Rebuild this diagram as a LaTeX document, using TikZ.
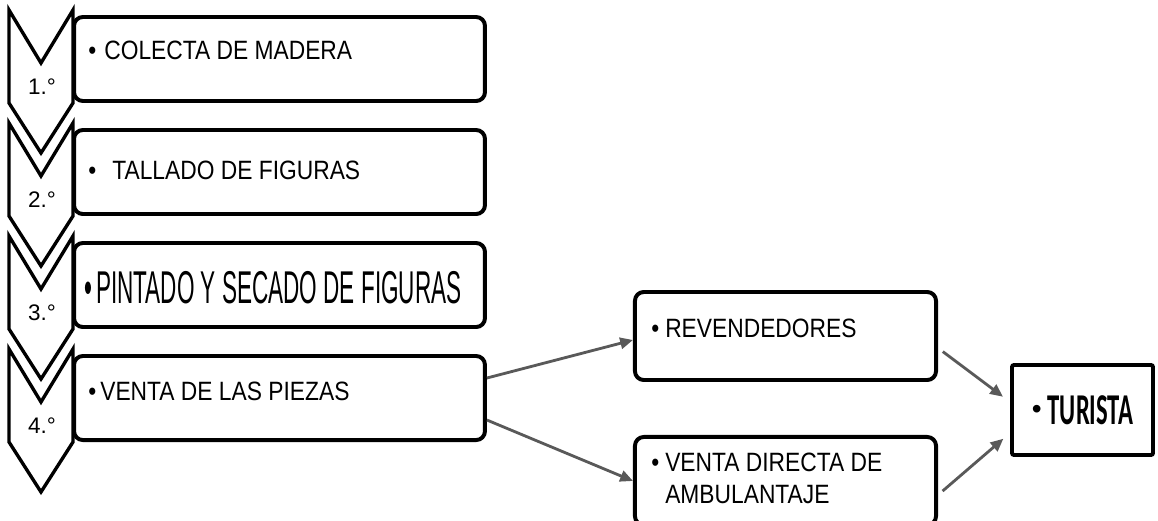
\documentclass[tikz,border=0pt]{standalone}
\usepackage{fontspec}
\setmainfont{Liberation Sans}
\newfontfamily\narrowfont{Liberation Sans}[FakeStretch=0.86]
\newfontfamily\squeezefont{Liberation Sans}[FakeStretch=0.49]
\newfontfamily\buyerfont{Carlito}[FakeStretch=0.56]
\usetikzlibrary{arrows.meta, positioning}

\begin{document}
\begin{tikzpicture}[
    x=0.025cm, y=-0.025cm,
    node distance=0.626cm,
    stage/.style={rectangle, rounded corners=0.22cm, draw=black, line width=2.8pt, fill=white, minimum width=10.27cm, minimum height=2.1cm},
    channel/.style={stage, minimum width=7.525cm, minimum height=2.2cm},
    buyer/.style={rectangle, rounded corners=1.5pt, draw=black, line width=2.8pt, fill=white, minimum width=3.525cm, minimum height=2.25cm, font=\buyerfont\bfseries\fontsize{31.3}{37}\selectfont},
    item/.style={anchor=west, inner sep=0pt, font=\narrowfont\fontsize{18.85}{22.6}\selectfont},
    chevron/.style={draw=black, line width=2.4pt, fill=white},
    num/.style={font=\fontsize{16}{19}\selectfont},
    arrow/.style={-{Triangle[length=3.2mm, width=2.8mm]}, line width=2pt, draw=black!65}
]

\clip (0,0) rectangle (1158,520);

% Step chevrons
\foreach \t [count=\i] in {10,123,236,349} {
  \draw[chevron] (9,\t) -- (41,\t+53) -- (73,\t) -- (73,\t+93) -- (41,\t+143) -- (9,\t+93) -- cycle;
  \node[num] (n\i) at (42,\t+77) {\i.°};
}

% Stage boxes
\node[stage] (b1) at (279.5,59) {};
\node[stage, below=of b1] (b2) {};
\node[stage, below=of b2] (b3) {};
\node[stage, below=of b3] (b4) {};

% Stage texts
\node[item] (t1) at ([xshift=0.4cm, yshift=0.22cm]b1.west) {\textbullet\hspace{0.2cm}COLECTA DE MADERA};
\node[item] (t2) at ([xshift=0.4cm, yshift=0.05cm]b2.west) {\textbullet\hspace{0.4cm}TALLADO DE FIGURAS};
\node[item, font=\squeezefont\fontsize{32.7}{39}\selectfont] (t3) at ([xshift=0.3cm, yshift=-0.075cm]b3.west) {\textbullet\hspace{0.1cm}PINTADO Y SECADO DE FIGURAS};
\node[item] (t4) at ([xshift=0.4cm, yshift=0.175cm]b4.west) {\textbullet\hspace{0.1cm}VENTA DE LAS PIEZAS};

% Sales channels
\node[channel] (rev) at (785.5,336) {};
\node[channel, below=1.325cm of rev] (venta) {};
\node[buyer] (tur) at (1082.5,410) {\raisebox{4pt}{\normalfont\fontsize{20}{20}\selectfont\textbullet}\hspace{0.15cm}TURISTA};

\node[item] (t5) at ([xshift=0.45cm, yshift=0.2cm]rev.west) {\textbullet\hspace{0.15cm}REVENDEDORES};
\node[item, anchor=base west] (t6) at ([xshift=0.45cm, yshift=-0.91cm]venta.north west) {\textbullet\hspace{0.15cm}\begin{tabular}[t]{@{}l@{}}VENTA DIRECTA DE\\AMBULANTAJE\end{tabular}};

% Arrows
\draw[arrow] ([yshift=0.5cm]b4.east) -- ([yshift=-0.1cm]rev.west);
\draw[arrow] ([yshift=-0.55cm]b4.east) -- (venta.west);
\draw[arrow, shorten <=0.15cm, shorten >=0.22cm] ([yshift=-0.3cm]rev.east) -- ([yshift=0.2cm]tur.west);
\draw[arrow, shorten <=0.15cm, shorten >=0.22cm] ([yshift=-0.35cm]venta.east) -- ([yshift=-0.575cm]tur.west);

\end{tikzpicture}
\end{document}
